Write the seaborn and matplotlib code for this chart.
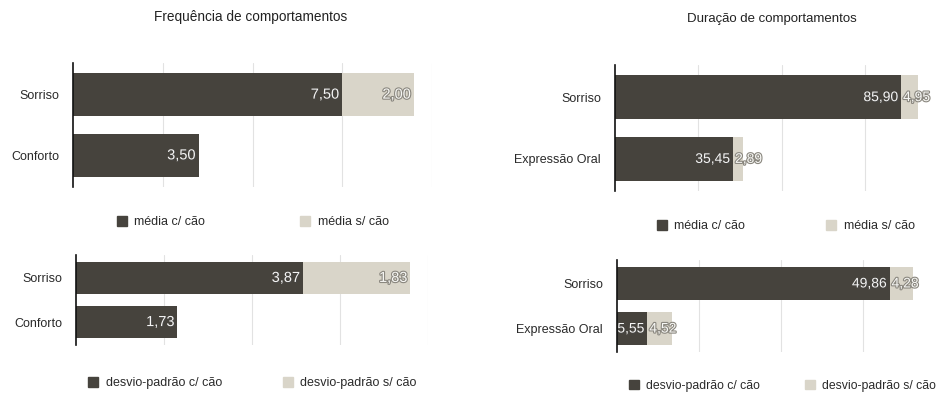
import matplotlib
matplotlib.use("Agg")
import matplotlib.pyplot as plt
import matplotlib.patches as mpatches
import matplotlib.patheffects as pe
import seaborn as sns

# dados
freq_cats = ["Sorriso", "Conforto"]
freq_media_com = [7.50, 3.50]
freq_media_sem = [2.00, 0.0]
freq_desvio_com = [3.87, 1.73]
freq_desvio_sem = [1.83, 0.0]

dur_cats = ["Sorriso", "Expressão Oral"]
dur_media_com = [85.90, 35.45]
dur_media_sem = [4.95, 2.89]
dur_desvio_com = [49.86, 5.55]
dur_desvio_sem = [4.28, 4.52]

leg_media = ["média c/ cão", "média s/ cão"]
leg_desvio = ["desvio-padrão c/ cão", "desvio-padrão s/ cão"]

ESCURO = "#46433d"
CLARO = "#d9d5c9"

sns.set_style("white")
plt.rcParams["font.family"] = ["Liberation Sans", "DejaVu Sans"]

W, H = 936, 394
fig = plt.figure(figsize=(W / 100, H / 100), dpi=100)
renderer = fig.canvas.get_renderer()


def fmt(v):
    return f"{v:.2f}".replace(".", ",")


def painel(px, cats, com, sem, xmax, step, legenda, leg_px, fs, leg_fs=9):
    x0, y0, x1, y1 = px
    ax = fig.add_axes([x0 / W, 1 - y1 / H, (x1 - x0) / W, (y1 - y0) / H])
    total = [a + b for a, b in zip(com, sem)]
    sns.barplot(x=total, y=cats, orient="h", color=CLARO, width=0.72,
                saturation=1, linewidth=0, ax=ax)
    sns.barplot(x=com, y=cats, orient="h", color=ESCURO, width=0.72,
                saturation=1, linewidth=0, ax=ax)
    ax.set_xlim(0, xmax)
    ax.set_ylim(1.52, -0.52)
    ax.set_xticks([step * k for k in range(1, int(round(xmax / step)) + 1)])
    ax.set_xticklabels([])
    ax.tick_params(axis="x", length=0)
    ax.tick_params(axis="y", length=0, pad=10, labelsize=9, labelcolor="#2a2a2a")
    ax.xaxis.grid(True, color="#e2e2e2", lw=0.8)
    ax.set_axisbelow(True)
    for s in ["top", "right", "bottom"]:
        ax.spines[s].set_visible(False)
    ax.spines["left"].set_color("#111111")
    ax.spines["left"].set_linewidth(1.2)
    ax.set_xlabel("")
    ax.set_ylabel("")

    upp = xmax / ax.bbox.width  # dados por pixel
    for i in range(len(cats)):
        segs = [(0, com[i], "#f4f4f4", pe.withSimplePatchShadow(offset=(0.8, -0.8), alpha=0.6)),
                (com[i], total[i], "#f7f7f4", pe.withStroke(linewidth=1.6, foreground="#8a877f"))]
        for a, b, cor, efeito in segs:
            if b - a <= 0:
                continue
            t = ax.text(b - 3 * upp, i, fmt(b - a), ha="right", va="center",
                        fontsize=fs, color=cor, path_effects=[efeito])
            w = t.get_window_extent(renderer).width
            if w + 2 > (b - a) / upp:
                t.set_x(a + 2 * upp)
                t.set_ha("left")

    for (lx, ly), lab, cor in zip(leg_px, legenda, [ESCURO, CLARO]):
        fig.legend(handles=[mpatches.Patch(color=cor, label=lab)],
                   loc="center left", bbox_to_anchor=(lx / W, 1 - ly / H),
                   frameon=False, fontsize=leg_fs, handlelength=0.8, handleheight=0.8,
                   handletextpad=0.6, borderpad=0, borderaxespad=0,
                   labelcolor="#2a2a2a")
    return ax


painel((73, 63, 432, 187), freq_cats, freq_media_com, freq_media_sem, 10, 2.5,
       leg_media, [(117, 222), (300, 222)], 10.5)
painel((76, 255, 428, 345), freq_cats, freq_desvio_com, freq_desvio_sem, 6, 1.5,
       leg_desvio, [(88, 383), (283, 383)], 10.5)
painel((615, 65, 948, 191), dur_cats, dur_media_com, dur_media_sem, 100, 25,
       leg_media, [(657, 226), (826, 226)], 10)
painel((617, 260, 945, 352), dur_cats, dur_desvio_com, dur_desvio_sem, 60, 15,
       leg_desvio, [(629, 386), (805, 386)], 10, leg_fs=8.8)

fig.text(251 / W, 1 - 17 / H, "Frequência de comportamentos", ha="center",
         va="center", fontsize=9.8, color="#222222")
fig.text(772 / W, 1 - 19 / H, "Duração de comportamentos", ha="center",
         va="center", fontsize=9.5, color="#222222")

fig.savefig("out.png", dpi=100)
